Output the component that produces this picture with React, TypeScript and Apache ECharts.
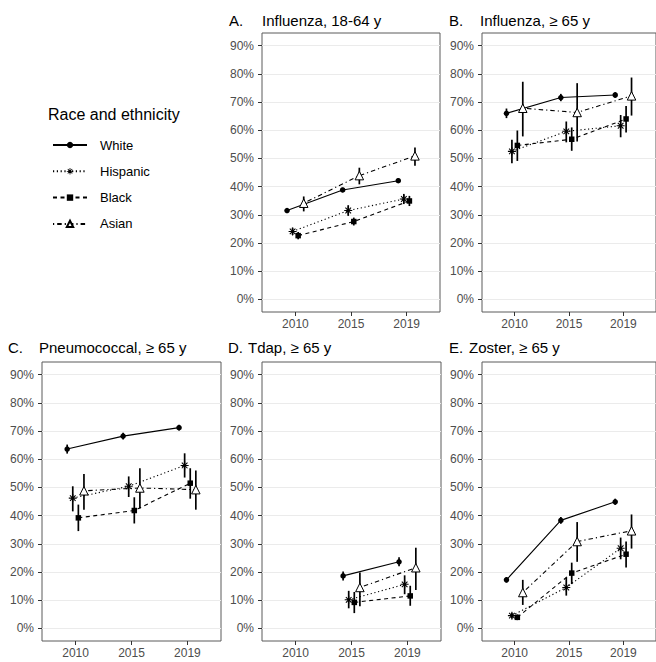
import React, { useEffect, useRef } from "react";
import * as echarts from "echarts";

const years = ["2010", "2015", "2019"];
const groups = ["White", "Hispanic", "Black", "Asian"];
const panelLetters = ["A.", "B.", "C.", "D.", "E."];
const panelTitles = [
  "Influenza, 18-64 y",
  "Influenza, \u2265 65 y",
  "Pneumococcal, \u2265 65 y",
  "Tdap, \u2265 65 y",
  "Zoster, \u2265 65 y",
];
const yTicks = [0, 10, 20, 30, 40, 50, 60, 70, 80, 90];

// rows: White, Hispanic, Black, Asian ; columns: 2010, 2015, 2019
const fluAdultEst = [[31.5, 38.8, 42.1], [24.1, 31.5, 35.6], [22.6, 27.6, 34.9], [34.1, 43.9, 50.9]];
const fluAdultLow = [[30.7, 38.0, 41.3], [22.8, 29.6, 33.8], [21.3, 26.2, 33.1], [31.2, 40.8, 47.4]];
const fluAdultHigh = [[32.3, 39.6, 42.9], [25.4, 33.4, 37.4], [23.9, 29.0, 36.7], [36.5, 46.7, 53.9]];

const fluSeniorEst = [[66.0, 71.6, 72.5], [52.5, 59.6, 61.6], [54.6, 56.8, 64.0], [67.8, 66.3, 72.2]];
const fluSeniorLow = [[64.3, 70.3, 71.5], [48.3, 55.7, 57.5], [49.1, 52.7, 59.2], [57.8, 56.0, 65.2]];
const fluSeniorHigh = [[67.7, 72.9, 73.5], [56.6, 63.1, 65.4], [59.9, 61.0, 68.6], [77.2, 76.7, 78.7]];

const pneumoEst = [[63.6, 68.2, 71.2], [46.2, 50.4, 57.8], [39.2, 41.8, 51.5], [48.8, 49.8, 49.2]];
const pneumoLow = [[62.0, 67.0, 70.2], [41.5, 46.6, 53.5], [34.5, 37.2, 46.0], [42.1, 42.5, 42.1]];
const pneumoHigh = [[65.2, 69.4, 72.2], [50.4, 53.9, 62.1], [43.9, 46.5, 56.8], [54.8, 56.8, 56.0]];

const tdapEst = [[null, 18.6, 23.6], [null, 10.1, 15.6], [null, 9.2, 11.5], [null, 14.5, 21.5]];
const tdapLow = [[null, 17.0, 22.0], [null, 7.1, 12.1], [null, 5.4, 8.0], [null, 7.8, 13.6]];
const tdapHigh = [[null, 20.2, 25.2], [null, 13.3, 18.8], [null, 12.9, 15.1], [null, 19.8, 28.6]];

const zosterEst = [[17.2, 38.3, 44.9], [4.5, 14.5, 28.4], [3.9, 19.6, 26.3], [12.7, 30.8, 34.6]];
const zosterLow = [[16.2, 37.1, 43.8], [3.5, 11.6, 24.5], [2.9, 15.7, 21.6], [8.3, 23.6, 28.3]];
const zosterHigh = [[18.2, 39.5, 46.0], [5.5, 18.0, 32.2], [4.9, 23.3, 30.8], [17.2, 37.7, 40.4]];

const panelEst = [fluAdultEst, fluSeniorEst, pneumoEst, tdapEst, zosterEst];
const panelLow = [fluAdultLow, fluSeniorLow, pneumoLow, tdapLow, zosterLow];
const panelHigh = [fluAdultHigh, fluSeniorHigh, pneumoHigh, tdapHigh, zosterHigh];

// layout (pixels)
const gridLayout = [
  { left: 262, top: 33, width: 178, height: 279 },
  { left: 482, top: 33, width: 178, height: 279 },
  { left: 42, top: 362, width: 179, height: 279 },
  { left: 262, top: 362, width: 179, height: 279 },
  { left: 482, top: 362, width: 178, height: 279 },
];
const titleLayout = [
  { lx: 229, tx: 262, y: 20 },
  { lx: 449, tx: 480, y: 20 },
  { lx: 8, tx: 39, y: 347 },
  { lx: 228, tx: 248, y: 347 },
  { lx: 449, tx: 469, y: 347 },
];
const dodge = [-0.15, -0.05, 0.05, 0.15];

const FONT = "'Liberation Sans', Arial, Helvetica, sans-serif";

const asteriskPath =
  "path://M0 8.7L20 8.7L20 11.3L0 11.3Z" +
  "M8.7 0L11.3 0L11.3 20L8.7 20Z" +
  "M3.85 2.01L17.99 16.15L16.15 17.99L2.01 3.85Z" +
  "M3.85 17.99L2.01 16.15L16.15 2.01L17.99 3.85Z";

const groupSymbol = ["circle", asteriskPath, "rect", "triangle"];
const groupSymbolSize = [5.5, 8, 5.5, 8.5];
const groupDash: any[] = ["solid", [1.2, 2.6], [4, 3.5], [1.2, 3, 4.5, 3]];

export default function App() {
  const ref = useRef<HTMLDivElement>(null);

  useEffect(() => {
    if (!ref.current) return;
    const chart = echarts.init(ref.current, null, { renderer: "svg" });

    const grid = gridLayout.map((g) => ({
      left: g.left,
      top: g.top,
      width: g.width,
      height: g.height,
      show: true,
      borderColor: "#5a5a5a",
      borderWidth: 1,
      backgroundColor: "#ffffff",
    }));

    const xAxis = gridLayout.map((_, i) => ({
      type: "value",
      gridIndex: i,
      min: 0.4,
      max: 3.6,
      axisLine: { show: false, onZero: false },
      splitLine: { show: false },
      axisTick: { show: true, customValues: [1, 2, 3], length: 4, lineStyle: { color: "#333333" } },
      axisLabel: {
        customValues: [1, 2, 3],
        formatter: (v: number) => years[Math.round(v) - 1],
        color: "#4D4D4D",
        fontSize: 12,
        fontFamily: FONT,
        margin: 6,
      },
    }));

    const yAxis = gridLayout.map((_, i) => ({
      type: "value",
      gridIndex: i,
      min: -4.5,
      max: 94.5,
      axisLine: { show: false, onZero: false },
      axisTick: { show: true, customValues: yTicks, length: 4, lineStyle: { color: "#333333" } },
      axisLabel: {
        customValues: yTicks,
        formatter: (v: number) => v + "%",
        color: "#4D4D4D",
        fontSize: 12,
        fontFamily: FONT,
        margin: 8,
      },
      splitLine: { show: true, lineStyle: { color: "#EBEBEB", width: 1 } },
    }));

    const series: any[] = [];
    panelEst.forEach((est, p) => {
      groups.forEach((gname, g) => {
        const pts: any[] = [];
        const bars: any[] = [];
        years.forEach((_, k) => {
          const v = est[g][k];
          if (v == null) return;
          const x = k + 1 + dodge[g];
          pts.push([x, v]);
          bars.push([x, panelLow[p][g][k], panelHigh[p][g][k]]);
        });
        series.push({
          type: "custom",
          name: gname + " CI",
          xAxisIndex: p,
          yAxisIndex: p,
          silent: true,
          z: 2,
          encode: { x: 0, y: [1, 2] },
          data: bars,
          renderItem: (params: any, api: any) => {
            const x = api.value(0);
            const a = api.coord([x, api.value(1)]);
            const b = api.coord([x, api.value(2)]);
            return {
              type: "line",
              shape: { x1: a[0], y1: a[1], x2: b[0], y2: b[1] },
              style: { stroke: "#000000", lineWidth: 1.7 },
            };
          },
        });
        series.push({
          type: "line",
          name: gname,
          xAxisIndex: p,
          yAxisIndex: p,
          z: 3,
          data: pts,
          symbol: groupSymbol[g],
          symbolSize: groupSymbolSize[g],
          showAllSymbol: true,
          lineStyle: { color: "#000000", width: 1.1, type: groupDash[g] },
          itemStyle:
            g === 3
              ? { color: "#ffffff", borderColor: "#000000", borderWidth: 1 }
              : { color: "#000000", borderWidth: 0 },
          emphasis: { disabled: true },
        });
      });
    });

    const graphic: any[] = [];
    titleLayout.forEach((t, i) => {
      graphic.push({
        type: "text",
        x: t.lx,
        y: t.y,
        style: { text: panelLetters[i], fontSize: 15, fontFamily: FONT, fill: "#000", textVerticalAlign: "middle" },
      });
      graphic.push({
        type: "text",
        x: t.tx,
        y: t.y,
        style: { text: panelTitles[i], fontSize: 15, fontFamily: FONT, fill: "#000", textVerticalAlign: "middle" },
      });
    });
    graphic.push({
      type: "text",
      x: 48,
      y: 114,
      style: { text: "Race and ethnicity", fontSize: 16, fontFamily: FONT, fill: "#000", textVerticalAlign: "middle" },
    });

    chart.setOption({
      animation: false,
      backgroundColor: "#ffffff",
      grid,
      xAxis,
      yAxis,
      series,
      graphic,
      legend: {
        data: groups,
        orient: "vertical",
        left: 52,
        top: 137,
        padding: 0,
        itemWidth: 34,
        itemHeight: 8,
        itemGap: 10.3,
        selectedMode: false,
        textStyle: { fontSize: 13, color: "#000", fontFamily: FONT, lineHeight: 16, padding: [0, 0, 0, 8] },
      },
    });

    return () => {
      chart.dispose();
    };
  }, []);

  return (
    <div
      ref={ref}
      style={{ position: "absolute", left: 0, top: 0, width: 656, height: 662, background: "#fff" }}
    />
  );
}
